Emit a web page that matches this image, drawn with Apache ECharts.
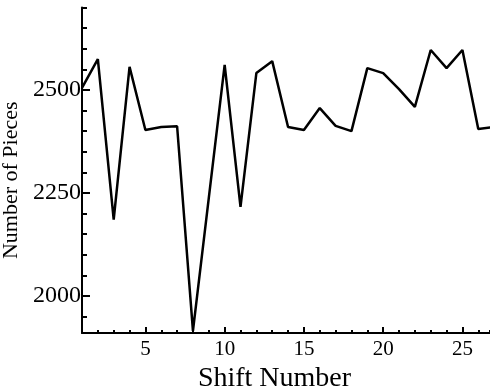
<!DOCTYPE html>
<html>
<head>
<meta charset="utf-8">
<script src="https://cdn.jsdelivr.net/npm/echarts@6/dist/echarts.min.js"></script>
<style>
  html, body { margin: 0; padding: 0; background: #fff; }
  #chart { width: 490px; height: 388px; }
</style>
</head>
<body>
<div id="chart"></div>
<script>
// 班次编号与产量
var shifts = [1, 2, 3, 4, 5, 6, 7, 8, 9, 10, 11, 12, 13, 14, 15, 16, 17, 18, 19, 20, 21, 22, 23, 24, 25, 26, 27];
var pieces = [2505, 2575, 2185, 2556, 2403, 2410, 2412, 1915, 2238, 2561, 2216, 2541, 2570, 2410, 2403,
              2456, 2413, 2400, 2553, 2541, 2502, 2459, 2597, 2553, 2597, 2405, 2410];

// 刻度
var xMajor = [5, 10, 15, 20, 25];
var yMajor = [2000, 2250, 2500];
var yMinor = [1950, 2050, 2100, 2150, 2200, 2300, 2350, 2400, 2450, 2550, 2600, 2650, 2700];

var font = 'Liberation Serif';
var plain = function (v) { return String(v); };
var myChart = echarts.init(document.getElementById('chart'));

var option = {
    animation: false,
    grid: { left: 82, right: 0, top: 7.6, bottom: 55, containLabel: false, outerBoundsMode: 'none' },
    xAxis: [
        {
            type: 'value', min: 1, max: 26.74,
            name: 'Shift Number', nameLocation: 'middle', nameGap: 22,
            nameTextStyle: { fontFamily: font, fontSize: 28, color: '#000', padding: [0, 23, 0, 0] },
            axisLine: { lineStyle: { color: '#000', width: 2 } },
            axisTick: { inside: true, length: 6, customValues: xMajor, lineStyle: { color: '#000', width: 2 } },
            axisLabel: { customValues: xMajor, formatter: plain, fontFamily: font, fontSize: 21, color: '#000', margin: 6 },
            splitLine: { show: false }
        },
        {
            type: 'value', min: 1, max: 26.74, interval: 1, position: 'bottom',
            axisLine: { show: false },
            axisTick: { inside: true, length: 3, lineStyle: { color: '#000', width: 2 } },
            axisLabel: { show: false },
            splitLine: { show: false }
        }
    ],
    yAxis: [
        {
            type: 'value', min: 1910, max: 2700,
            name: 'Number of Pieces', nameLocation: 'middle', nameGap: 54, nameRotate: 90,
            nameTextStyle: { fontFamily: font, fontSize: 22, color: '#000', padding: [0, 20, 0, 0] },
            axisLine: { show: true, lineStyle: { color: '#000', width: 2 } },
            axisTick: { show: true, inside: true, length: 8, customValues: yMajor, lineStyle: { color: '#000', width: 2 } },
            axisLabel: { customValues: yMajor, formatter: plain, fontFamily: font, fontSize: 24, color: '#000', margin: 1, padding: [6, 0, 0, 0] },
            splitLine: { show: false }
        },
        {
            type: 'value', min: 1910, max: 2700, position: 'left',
            axisLine: { show: false },
            axisTick: { show: true, inside: true, length: 5, customValues: yMinor, lineStyle: { color: '#000', width: 2 } },
            axisLabel: { show: false },
            splitLine: { show: false }
        }
    ],
    series: [
        {
            type: 'line',
            data: shifts.map(function (s, i) { return [s, pieces[i]]; }),
            showSymbol: false,
            clip: true,
            lineStyle: { color: '#000', width: 2.5 }
        }
    ]
};

myChart.setOption(option);
</script>
</body>
</html>
